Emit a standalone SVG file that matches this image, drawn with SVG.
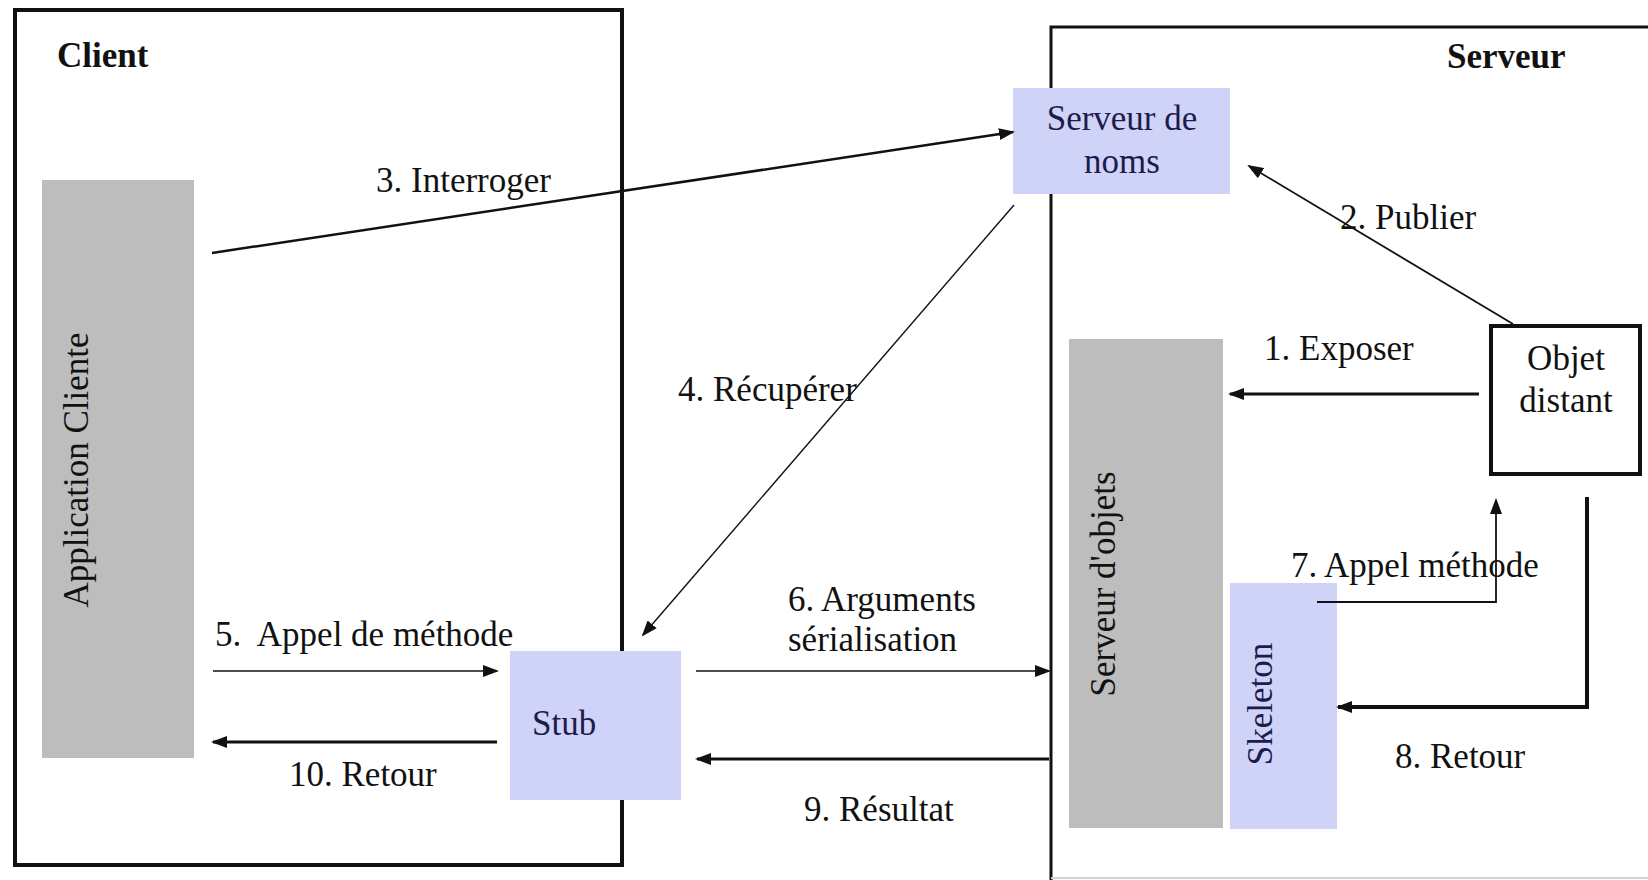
<svg xmlns="http://www.w3.org/2000/svg" width="1648" height="880" viewBox="0 0 1648 880">
<defs>
<style>
.lbl{font-family:"Liberation Serif","Times New Roman",serif;font-size:35px;fill:#111}
.title{font-family:"Liberation Serif","Times New Roman",serif;font-size:35px;font-weight:bold;fill:#111}
.ntext{font-family:"Liberation Serif","Times New Roman",serif;font-size:35px;fill:#1c1c4c}
.gray{fill:#bdbdbd}
.blue{fill:#d0d3f8}
.conn{fill:none;stroke:#111}
</style>
<marker id="ah" viewBox="0 0 16 12" refX="14" refY="6" markerWidth="16" markerHeight="12" markerUnits="userSpaceOnUse" orient="auto">
<path d="M0,0 L16,6 L0,12 z" fill="#111"/>
</marker>
</defs>
<rect width="1648" height="880" fill="#fff"/>

<g id="client">
<rect x="15" y="10" width="607" height="855" fill="none" stroke="#111" stroke-width="4"/>
<text class="title" x="57" y="67">Client</text>
</g>

<g id="serveur">
<path d="M1660,27 H1051 V880" fill="none" stroke="#111" stroke-width="3"/>
<path d="M1051,878 H1648" fill="none" stroke="#d4d4d4" stroke-width="2"/>
<text class="title" x="1447" y="68">Serveur</text>
</g>

<g id="application-cliente">
<rect class="gray" x="42" y="180" width="152" height="578"/>
<text class="lbl" text-anchor="middle" transform="translate(88,470) rotate(-90)">Application Cliente</text>
</g>

<g id="serveur-objets">
<rect class="gray" x="1069" y="339" width="154" height="489"/>
<text class="lbl" text-anchor="middle" transform="translate(1115,584) rotate(-90)">Serveur d'objets</text>
</g>

<g id="skeleton">
<rect class="blue" x="1230" y="583" width="107" height="246"/>
<text class="ntext" text-anchor="middle" transform="translate(1272,704) rotate(-90)">Skeleton</text>
</g>

<g id="serveur-noms">
<rect class="blue" x="1013" y="88" width="217" height="106"/>
<text class="ntext" text-anchor="middle" x="1122" y="130">Serveur de</text>
<text class="ntext" text-anchor="middle" x="1122" y="173">noms</text>
</g>

<g id="stub">
<rect class="blue" x="510" y="651" width="171" height="149"/>
<text class="ntext" x="532" y="735">Stub</text>
</g>

<g id="objet-distant">
<rect x="1491" y="326" width="149" height="148" fill="#fff" stroke="#111" stroke-width="4"/>
<text class="lbl" text-anchor="middle" x="1566" y="370">Objet</text>
<text class="lbl" text-anchor="middle" x="1566" y="412">distant</text>
</g>

<g id="connectors">
<line class="conn" x1="212" y1="253" x2="1013" y2="132" stroke-width="2.5" marker-end="url(#ah)"/>
<line class="conn" x1="1014" y1="205" x2="643" y2="635" stroke-width="1.4" marker-end="url(#ah)"/>
<line class="conn" x1="1513" y1="324" x2="1249" y2="166" stroke-width="1.8" marker-end="url(#ah)"/>
<line class="conn" x1="1479" y1="394" x2="1230" y2="394" stroke-width="3" marker-end="url(#ah)"/>
<line class="conn" x1="213" y1="671" x2="497" y2="671" stroke-width="1.6" marker-end="url(#ah)"/>
<line class="conn" x1="497" y1="742" x2="213" y2="742" stroke-width="3" marker-end="url(#ah)"/>
<line class="conn" x1="696" y1="671" x2="1049" y2="671" stroke-width="1.6" marker-end="url(#ah)"/>
<line class="conn" x1="1049" y1="759" x2="697" y2="759" stroke-width="3" marker-end="url(#ah)"/>
<polyline class="conn" points="1317,602 1496,602 1496,500" stroke-width="1.8" marker-end="url(#ah)"/>
<polyline class="conn" points="1587,497 1587,707 1338,707" stroke-width="4" marker-end="url(#ah)"/>
</g>

<g id="labels">
<text class="lbl" x="376" y="192">3. Interroger</text>
<text class="lbl" x="1340" y="229">2. Publier</text>
<text class="lbl" x="1264" y="360">1. Exposer</text>
<text class="lbl" x="678" y="401">4. Récupérer</text>
<text class="lbl" x="1291" y="577">7. Appel méthode</text>
<text class="lbl" x="788" y="611">6. Arguments</text>
<text class="lbl" x="788" y="651">sérialisation</text>
<text class="lbl" x="215" y="646" xml:space="preserve">5.  Appel de méthode</text>
<text class="lbl" x="289" y="786">10. Retour</text>
<text class="lbl" x="804" y="821">9. Résultat</text>
<text class="lbl" x="1395" y="768">8. Retour</text>
</g>
</svg>
